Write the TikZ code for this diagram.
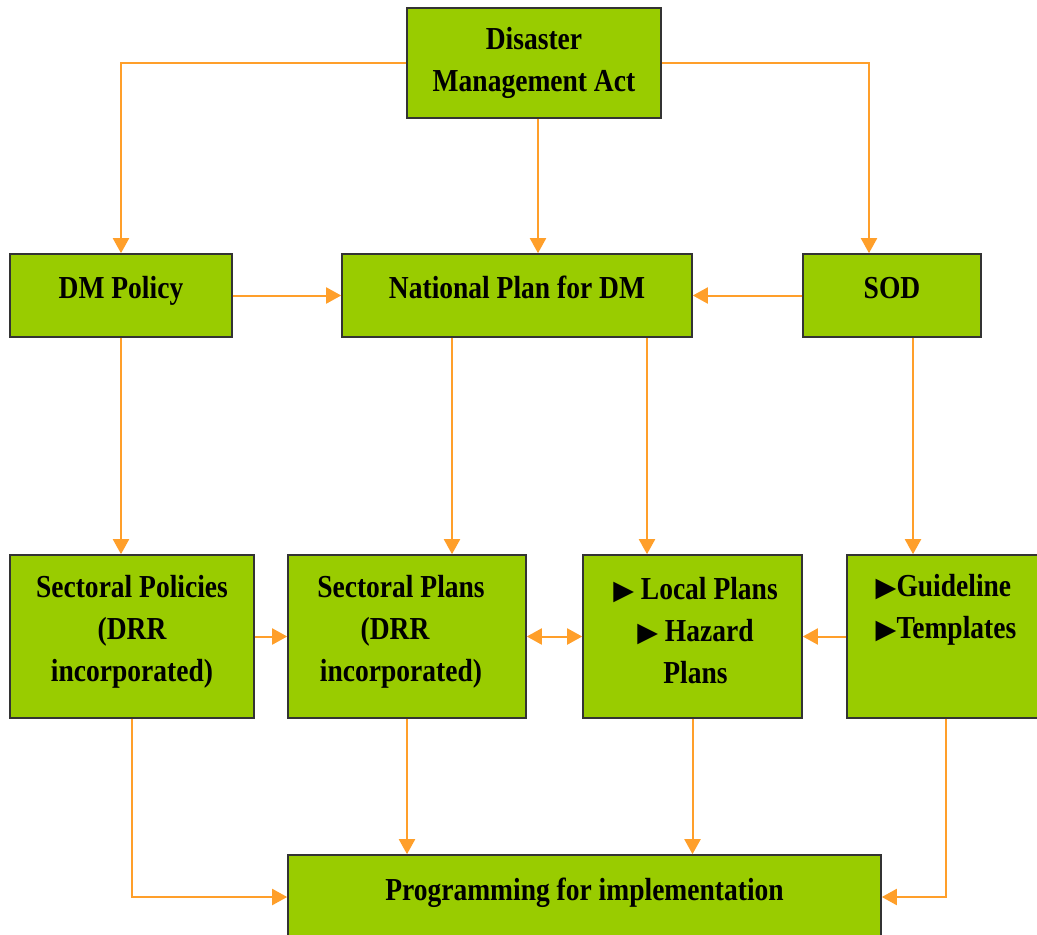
\documentclass[tikz,border=0pt]{standalone}
\usepackage{fontspec}
\setmainfont{Liberation Serif}[FakeStretch=0.86]
\newfontfamily\symfont{DejaVu Sans}
\usetikzlibrary{arrows.meta,calc}
\definecolor{boxgreen}{HTML}{99CC00}
\definecolor{arrorange}{HTML}{FF9F2A}
\newcommand{\tri}{{\symfont\fontsize{27}{27}\selectfont ▶}}
\tikzset{
  box/.style={draw=black!80, line width=1.6pt, fill=boxgreen, inner sep=0pt},
  txt/.style={inner sep=0pt, align=center, text height=22pt, text depth=7pt,
    font=\fontsize{32}{42}\selectfont\bfseries},
  arr/.style={draw=arrorange, line width=2pt, -{Triangle[length=15pt,width=16pt]}},
  darr/.style={draw=arrorange, line width=2pt, {Triangle[length=15pt,width=16pt]}-{Triangle[length=15pt,width=16pt]}},
}
\begin{document}
\begin{tikzpicture}[x=1pt,y=-1pt]
\useasboundingbox (0,0) rectangle (1037,935);
\clip (0,0) rectangle (1037,935);
% boxes
\node[box, minimum width=254pt, minimum height=110pt] (dma) at (534,63) {};
\node[box, minimum width=222pt, minimum height=83pt] (dmp) at (121,295.5) {};
\node[box, minimum width=350pt, minimum height=83pt] (np) at (517,295.5) {};
\node[box, minimum width=178pt, minimum height=83pt] (sod) at (892,295.5) {};
\node[box, minimum width=244pt, minimum height=163pt] (sp) at (132,636.5) {};
\node[box, minimum width=238pt, minimum height=163pt] (spl) at (407,636.5) {};
\node[box, minimum width=219pt, minimum height=163pt] (lp) at (692.5,636.5) {};
\node[box, minimum width=198pt, minimum height=163pt] (gl) at (946,636.5) {};
\node[box, minimum width=593pt, minimum height=84pt] (prog) at (584.5,897) {};
% texts
\node[txt, text height=, text depth=] (tdma) at (dma.center) {Disaster\\Management Act};
\node[txt, yshift=4.5pt] (tdmp) at (dmp.center) {DM Policy};
\node[txt, yshift=4.5pt] (tnp) at (np.center) {National Plan for DM};
\node[txt, yshift=4.5pt] (tsod) at (sod.center) {SOD};
\node[txt, text height=, text depth=, yshift=5pt] (tsp) at (sp.center) {Sectoral Policies\\(DRR\\incorporated)};
\node[txt, text height=, text depth=, yshift=5pt, xshift=-6pt] (tspl) at (spl.center) {Sectoral Plans\\\hspace*{-12pt}(DRR\\incorporated)};
\node[txt, text height=, text depth=, yshift=6pt, xshift=3pt] (tlp) at (lp.center) {\tri\ Local Plans\\\tri\ Hazard\\Plans};
\node[txt, text height=, text depth=, align=left, yshift=27pt] (tgl) at (gl.center) {\tri Guideline\\\tri Templates};
\node[txt, yshift=4pt] (tprog) at (prog.center) {Programming for implementation};
% connectors
\draw[arr] (dma.west) -| (dmp.north);
\draw[arr] ([xshift=4pt]dma.south) -- ([xshift=4pt]dma.south |- np.north);
\draw[arr] (dma.east) -| ([xshift=-23pt]sod.north);
\draw[arr] (dmp.east) -- (np.west);
\draw[arr] (sod.west) -- (np.east);
\draw[arr] (dmp.south) -- (dmp.south |- sp.north);
\draw[arr] ([xshift=-65pt]np.south) -- ([xshift=-65pt]np.south |- spl.north);
\draw[arr] ([xshift=130pt]np.south) -- ([xshift=130pt]np.south |- lp.north);
\draw[arr] ([xshift=21pt]sod.south) -- ([xshift=21pt]sod.south |- gl.north);
\draw[arr] (sp.east) -- (spl.west);
\draw[darr] (spl.east) -- (lp.west);
\draw[arr] (gl.west) -- (lp.east);
\draw[arr] (sp.south) |- (prog.west);
\draw[arr] (spl.south) -- (spl.south |- prog.north);
\draw[arr] (lp.south) -- (lp.south |- prog.north);
\draw[arr] (gl.south) |- (prog.east);
\end{tikzpicture}
\end{document}
